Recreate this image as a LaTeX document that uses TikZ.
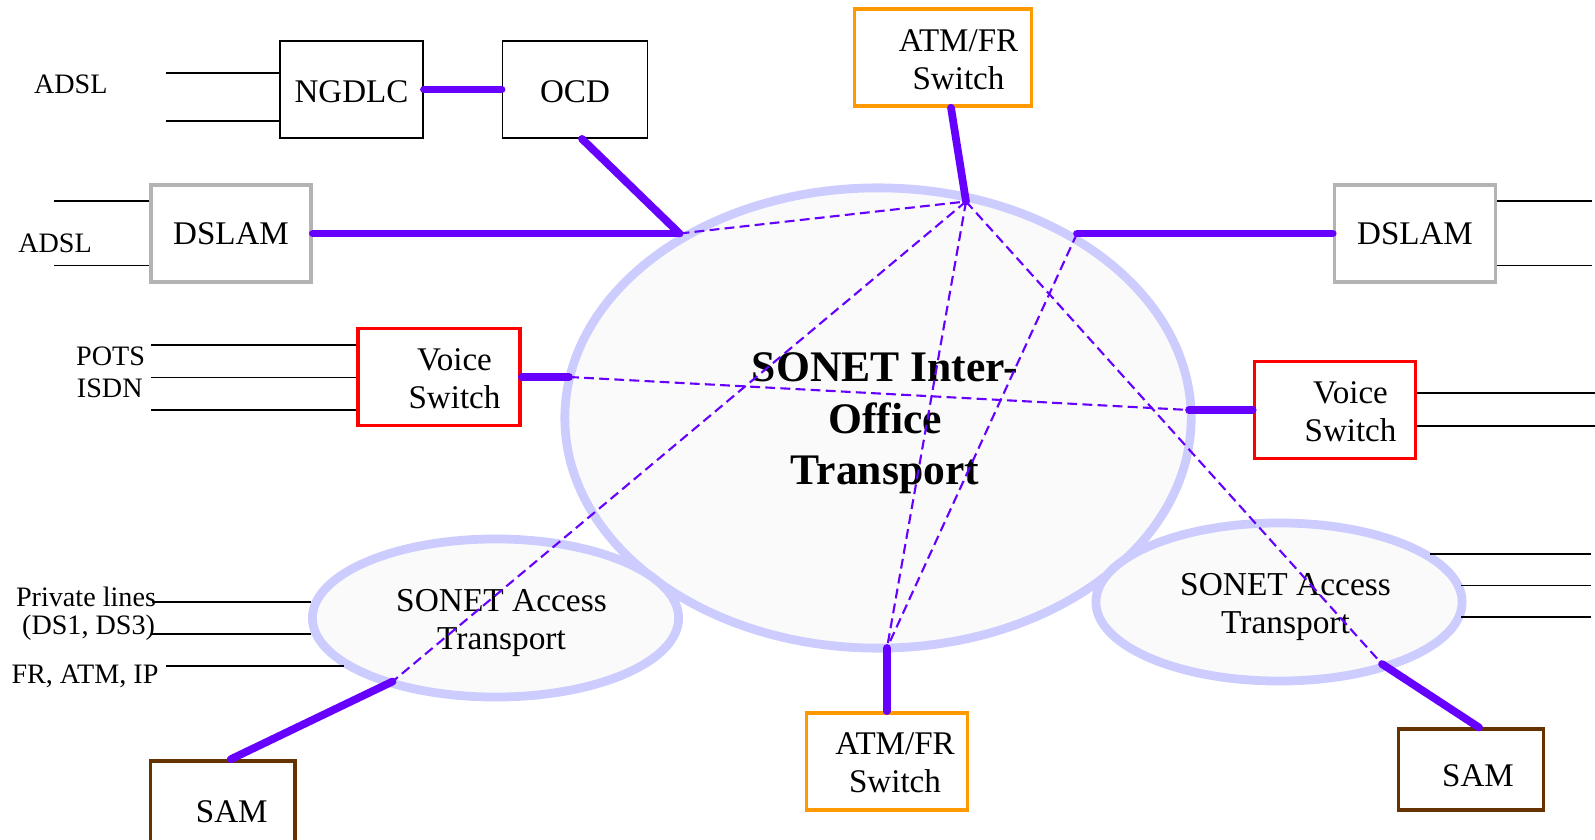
\documentclass[tikz,border=0pt]{standalone}
\usepackage{fontspec}
\setmainfont{Liberation Serif}
\usetikzlibrary{shapes.geometric}
\definecolor{linkviolet}{RGB}{102, 0, 255}
\definecolor{ringblue}{RGB}{204, 204, 255}
\definecolor{ringfill}{RGB}{250, 250, 250}
\definecolor{swred}{RGB}{255, 0, 0}
\definecolor{atmorange}{RGB}{255, 153, 0}
\definecolor{sambrown}{RGB}{102, 51, 0}
\definecolor{dslamgray}{RGB}{179, 179, 179}
% text block, pushed right by half of the optional space and a bit down
\newcommand{\droplines}[1]{\raisebox{-1.4pt}[\height][\depth]{#1}}
\newcommand{\boxlines}[2][0cm]{\hspace*{#1}\droplines{\begin{tabular}{@{}c@{}}#2\end{tabular}}}
\tikzset{
  unit/.style={draw, fill=white, line width=1pt, minimum height=0.97cm, inner sep=0pt,
    font=\fontsize{9.4}{10.8}\selectfont},
  trunk/.style={draw=linkviolet, line width=2.2pt, line cap=round},
  meshlink/.style={draw=linkviolet, line width=0.6pt, dash pattern=on 2.8pt off 1.5pt},
  tail/.style={draw=black, line width=0.5pt},
  ring/.style={ellipse, draw=ringblue, fill=ringfill, line width=2.5pt, inner sep=0pt},
  tag/.style={anchor=base, inner sep=0pt, font=\fontsize{8}{9.6}\selectfont}
}

\begin{document}
\begin{tikzpicture}[x=0.01cm, y=-0.01cm]
    \clip (0,0) rectangle (1595,840);

    % Rings: inter-office in the middle, access rings on top of it
    \node[ring, minimum width=6.26cm, minimum height=4.6cm,
      font=\bfseries\fontsize{12.4}{14.7}\selectfont] (iof) at (878,418)
      {\boxlines[0.14cm]{SONET Inter-\\Office\\Transport}};
    \node[ring, minimum width=3.66cm, minimum height=1.58cm,
      font=\fontsize{9.5}{10.9}\selectfont] (accl) at (495.5,618)
      {\boxlines[0.12cm]{SONET Access\\Transport}};
    \node[ring, minimum width=3.66cm, minimum height=1.58cm,
      font=\fontsize{9.5}{10.9}\selectfont] (accr) at (1279,602)
      {\boxlines[0.13cm]{SONET Access\\Transport}};

    % Points where the links meet the rings
    \coordinate (jocd) at (679.5,233.5);
    \coordinate (jdsr) at (1077,233.5);
    \coordinate (hub) at (966,201.5);
    \coordinate (jvl) at (569,377);
    \coordinate (jvr) at (1189,410);
    \coordinate (jsaml) at (392.6,681.5);
    \coordinate (jatmb) at (887,648);
    \coordinate (jsamr) at (1382,664);

    % Equipment
    \node[unit, line width=0.5pt, minimum width=1.43cm] (ngdlc) at (351.5,89.5) {\boxlines{NGDLC}};
    \node[unit, line width=0.5pt, minimum width=1.45cm] (ocd) at (575,89.5) {\boxlines{OCD}};
    \node[unit, draw=dslamgray, minimum width=1.6cm] (dslaml) at (231,233.5) {DSLAM};
    \node[unit, draw=atmorange, minimum width=1.77cm] (atmt) at (943,57.5)
      {\boxlines[0.31cm]{ATM/FR\\Switch}};
    \node[unit, draw=dslamgray, minimum width=1.61cm] (dslamr) at (1415,233.5) {DSLAM};
    \node[unit, draw=swred, minimum width=1.62cm] (voicel) at (439,377)
      {\boxlines[0.31cm]{Voice\\Switch}};
    \node[unit, draw=swred, minimum width=1.61cm] (voicer) at (1335,410)
      {\boxlines[0.31cm]{Voice\\Switch}};
    \node[unit, draw=sambrown, minimum width=1.445cm] (saml) at (222.75,809.5)
      {\boxlines[0.18cm]{SAM}};
    \node[unit, draw=atmorange, minimum width=1.61cm] (atmb) at (887,761.4)
      {\boxlines[0.16cm]{ATM/FR\\Switch}};
    \node[unit, draw=sambrown, minimum width=1.45cm, minimum height=0.805cm] (samr) at (1471,769.5)
      {\droplines{\boxlines[0.14cm]{SAM}}};

    % Fibre links to the rings
    \draw[trunk] (ngdlc.east) -- (ocd.west);
    \draw[trunk] ([xshift=0.07cm]ocd.south) -- (jocd);
    \draw[trunk] (dslaml.east) -- (jocd);
    \draw[trunk] ([xshift=0.08cm]atmt.south) -- (hub);
    \draw[trunk] (jdsr) -- (dslamr.west);
    \draw[trunk] (voicel.east) -- (jvl);
    \draw[trunk] (jvr) -- (voicer.west);
    \draw[trunk] ([xshift=0.08cm]saml.north) -- (jsaml);
    \draw[trunk] (jatmb) -- (atmb.north);
    \draw[trunk] (jsamr) -- ([xshift=0.08cm]samr.north);

    % Paths across the rings
    \foreach \a/\b in {jocd/hub, hub/jsaml, hub/jatmb, hub/jsamr, jdsr/jatmb, jvl/jvr}
      \draw[meshlink] (\a) -- (\b);

    % Customer lines
    \foreach \yy in {73,121} \draw[tail] (166,\yy) -- (ngdlc.west |- 0,\yy);
    \foreach \yy in {201,265.5} \draw[tail] (54,\yy) -- (dslaml.west |- 0,\yy);
    \foreach \yy in {345,377.5,409.7} \draw[tail] (151,\yy) -- (voicel.west |- 0,\yy);
    \foreach \yy in {201,265.5} \draw[tail] (dslamr.east |- 0,\yy) -- (1592,\yy);
    \foreach \yy in {393,425.7} \draw[tail] (voicer.east |- 0,\yy) -- (1595,\yy);
    \draw[tail] (152,602) -- (311,602);
    \draw[tail] (151,633.8) -- (311,633.8);
    \draw[tail] (166,666) -- (344,666);
    \draw[tail] (1430,553.8) -- (1591,553.8);
    \foreach \yy in {585.5,617} \draw[tail] (1461,\yy) -- (1591,\yy);

    % Line labels
    \node[tag] (adsla) at (70.8,93.3) {ADSL};
    \node[tag] (adslb) at (55,253) {ADSL};
    \node[tag] (pots) at (110.6,365.5) {POTS};
    \node[tag] (isdn) at (109.8,397.6) {ISDN};
    \node[tag] (privl) at (86,606) {Private lines};
    \node[tag] (dsx) at (88.6,634) {(DS1, DS3)};
    \node[tag] (fatip) at (85,683.5) {FR, ATM, IP};
\end{tikzpicture}
\end{document}
